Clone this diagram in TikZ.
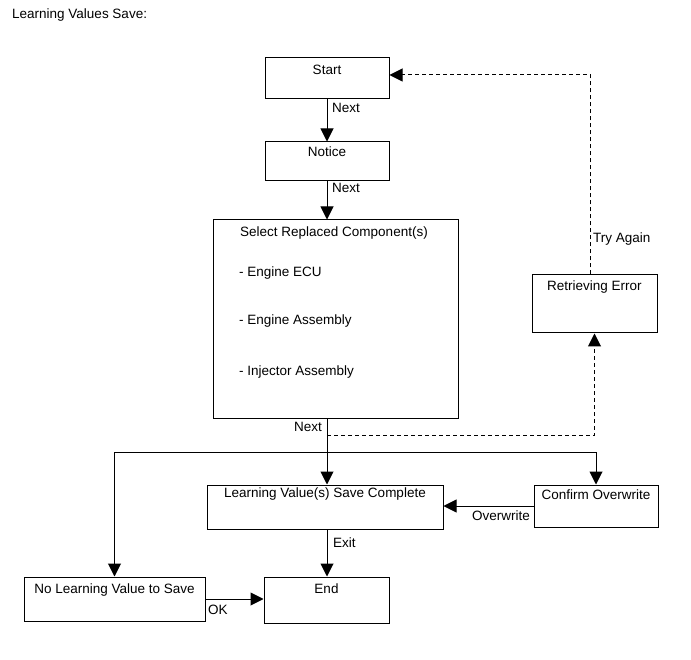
\documentclass[tikz,border=0pt]{standalone}
\usepackage{fontspec}
\setmainfont{Liberation Sans}
\usetikzlibrary{arrows.meta}
\begin{document}
\begin{tikzpicture}[x=1pt,y=-1pt,font=\fontsize{13.5}{15}\selectfont,
  box/.style={draw,line width=1pt,inner sep=0pt},
  txt/.style={inner sep=0pt,anchor=base},
  txtw/.style={inner sep=0pt,anchor=base west},
  txte/.style={inner sep=0pt,anchor=base east},
  arr/.style={line width=1pt,-{Triangle[width=13pt,length=13pt]}},
  plain/.style={line width=1pt},
  darr/.style={line width=1pt,dash pattern=on 4pt off 3pt,-{Triangle[width=13pt,length=13pt]}},
  dline/.style={line width=1pt,dash pattern=on 4pt off 3pt}]
\useasboundingbox (0,0) rectangle (691,660);

\node[txtw] (title) at (12,18.5) {Learning Values Save:};

% boxes
\node[box,minimum width=124pt,minimum height=41pt] (start) at (327,78.5) {};
\node[box,minimum width=124pt,minimum height=39pt] (notice) at (327,161.5) {};
\node[box,minimum width=245pt,minimum height=198pt] (select) at (335.5,319) {};
\node[box,minimum width=125pt,minimum height=58pt] (retr) at (594.5,304) {};
\node[box,minimum width=236pt,minimum height=44pt] (lvsc) at (325,507) {};
\node[box,minimum width=124pt,minimum height=42pt] (conf) at (596,506) {};
\node[box,minimum width=181pt,minimum height=44pt] (nolv) at (114.5,599) {};
\node[box,minimum width=125pt,minimum height=46pt] (end) at (326.5,600) {};

% box texts
\node[txt] (tstart) at (start.center |- 0,74.7) {Start};
\node[txt] (tnotice) at (notice.center |- 0,156.7) {Notice};
\node[txt] (tselect) at (334,236.7) {Select Replaced Component(s)};
\node[txtw] (ecu) at (239,276.7) {- Engine ECU};
\node[txtw] (eng) at (239,324.7) {- Engine Assembly};
\node[txtw] (inj) at (239,375.7) {- Injector Assembly};
\node[txt] (tretr) at (retr.center |- 0,290.7) {Retrieving Error};
\node[txt] (tlvsc) at (lvsc.center |- 0,497.7) {Learning Value(s) Save Complete};
\node[txt] (tconf) at (conf.center |- 0,499.7) {Confirm Overwrite};
\node[txt] (tnolv) at (nolv.center |- 0,593.7) {No Learning Value to Save};
\node[txt] (tend) at (end.center |- 0,593.7) {End};

% coordinates
\coordinate (mx) at (327,0);
\coordinate (br) at (327,452);
\coordinate (dn) at (327,435);
\coordinate (ta) at (590,75);

% main connectors
\draw[arr] (start) -- (notice);
\draw[arr] (notice.south) -- (mx |- select.north);
\draw[arr] (mx |- select.south) -- (mx |- lvsc.north);
\draw[plain] (nolv.north |- br) -- (conf.north |- br);
\draw[arr] (nolv.north |- br) -- (nolv.north);
\draw[arr] (conf.north |- br) -- (conf.north);
\draw[arr] (conf.west) -- (conf.west -| lvsc.east);
\draw[arr] (mx |- lvsc.south) -- (mx |- end.north);
\draw[arr] (nolv.east) -- (nolv.east -| end.west);

% dashed connectors
\draw[darr] (dn) -| (retr.south);
\draw[darr] (retr.north -| ta) -- (ta) -- (ta -| start.east);

% connector labels
\node[txtw] (n1) at (332,112.7) {Next};
\node[txtw] (n2) at (332,192.7) {Next};
\node[txte] (n3) at (322,431.7) {Next};
\node[txtw] (lexit) at (333,547.7) {Exit};
\node[txte] (lover) at (530,520.7) {Overwrite};
\node[txtw] (lok) at (208,614.7) {OK};
\node[txtw] (ltry) at (593,242.7) {Try Again};
\end{tikzpicture}
\end{document}
